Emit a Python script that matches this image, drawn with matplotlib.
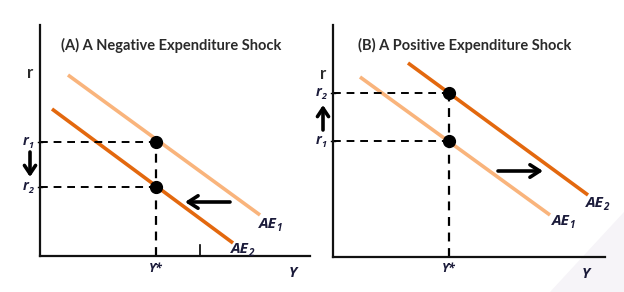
import matplotlib
matplotlib.use("Agg")
import matplotlib.pyplot as plt
from matplotlib.patches import Polygon

plt.rcParams['font.family'] = ['Lato', 'DejaVu Sans']

W, H = 624, 292
LIGHT = '#F9B47C'
DARK = '#E3680E'
NAVY = '#1B1B3A'
LABEL_FONT = ['Open Sans', 'DejaVu Sans']

# Panel A data (schematic units)
a_title = "(A) A Negative Expenditure Shock"
a_ae1_x = [28, 220]; a_ae1_y = [181, 41]
a_ae2_x = [12, 193]; a_ae2_y = [147, 13]
a_ystar = 116
a_r1 = 114; a_r2 = 69
a_tick = 160
a_shift_arrow = [190, 145, 54]   # from x, to x, at y

# Panel B data
b_title = "(B) A Positive Expenditure Shock"
b_ae1_x = [27, 217]; b_ae1_y = [180, 42]
b_ae2_x = [75, 255]; b_ae2_y = [194, 62]
b_ystar = 116
b_r1 = 116; b_r2 = 164
b_shift_arrow = [165, 210, 86]

fig = plt.figure(figsize=(W / 100, H / 100), dpi=100)
fig.patch.set_facecolor('white')

# faint slide-background shading in the lower right corner
fig.patches.append(Polygon([(550 / W, 0), (1, 0), (1, 80 / H)], closed=True,
                           transform=fig.transFigure, facecolor='#F6F4F8',
                           edgecolor='none', zorder=-5))


def make_ax(left, right, bottom, top):
    ax = fig.add_axes([left / W, (H - bottom) / H, (right - left) / W, (bottom - top) / H])
    ax.set_xlim(0, right - left)
    ax.set_ylim(0, bottom - top)
    for s in ['top', 'right']:
        ax.spines[s].set_visible(False)
    for s in ['left', 'bottom']:
        ax.spines[s].set_linewidth(1.6)
        ax.spines[s].set_color('#111111')
    ax.set_xticks([]); ax.set_yticks([])
    ax.patch.set_alpha(0)
    return ax


def sublabel(ax, x, y, main, sub=None, size=11, ha='center'):
    """Bold italic label with optional subscript; (x, y) is the centre of the main text."""
    t = ax.text(x, y, main, fontsize=size, color=NAVY, fontweight='bold', style='italic',
                family=LABEL_FONT, ha=ha, va='center', clip_on=False)
    if sub is not None:
        fig.canvas.draw()
        bb = t.get_window_extent()
        inv = ax.transData.inverted()
        x1, _ = inv.transform((bb.x1, bb.y0))
        ax.annotate(sub, xy=(x1, y), xytext=(-0.8, -3.5), textcoords='offset points',
                    fontsize=size * 0.65, color=NAVY, fontweight='bold', style='italic',
                    family=LABEL_FONT, ha='left', va='center', annotation_clip=False)


def draw(ax, title, ae1x, ae1y, ae2x, ae2y, ystar, rlow, rhigh, arrow, vert_dir, rnames):
    ax.plot(ae1x, ae1y, color=LIGHT, lw=2.6, solid_capstyle='butt')
    ax.plot(ae2x, ae2y, color=DARK, lw=2.6, solid_capstyle='butt')
    for r in (rlow, rhigh):
        ax.plot([0, ystar], [r, r], color='black', lw=1.4, ls=(0, (4, 3)))
        ax.plot([-2, 2], [r, r], color='black', lw=1.0, clip_on=False)
    ax.plot([ystar, ystar], [0, max(rlow, rhigh)], color='black', lw=1.6, ls=(0, (4, 3)))
    ax.plot([ystar, ystar], [rlow, rhigh], 'o', color='black', ms=8.5)
    ax.annotate('', xy=(arrow[1], arrow[2]), xytext=(arrow[0], arrow[2]),
                arrowprops=dict(arrowstyle='->,head_length=0.7,head_width=0.45',
                                lw=2.6, color='black', shrinkA=0, shrinkB=0))
    ax.text(0.5 * (ax.get_xlim()[1]) - 4, ax.get_ylim()[1] - 20, title, fontsize=10.5,
            fontweight='bold', color='#2a2a2a', ha='center', va='center')
    ax.text(-10, 183, 'r', fontsize=12, fontweight='bold', color='#2a2a2a', ha='center',
            va='center', clip_on=False)
    sublabel(ax, ystar, -12, 'Y*', size=9)
    sublabel(ax, 253, -17, 'Y', size=10.5)
    for name, r in rnames:
        sublabel(ax, -14, r + 1, 'r', name, size=10)
    lo, hi = vert_dir
    ax.annotate('', xy=(-10, hi), xytext=(-10, lo), annotation_clip=False,
                arrowprops=dict(arrowstyle='->,head_length=0.6,head_width=0.4',
                                lw=2.6, color='black', shrinkA=0, shrinkB=0))


axA = make_ax(40, 310, 256, 25)
draw(axA, a_title, a_ae1_x, a_ae1_y, a_ae2_x, a_ae2_y, a_ystar, a_r2, a_r1,
     a_shift_arrow, (104, 79), [('1', a_r1), ('2', a_r2)])
axA.plot([a_tick, a_tick], [0, 11], color='black', lw=1.2)
sublabel(axA, 228, 32, 'AE', '1', size=11)
sublabel(axA, 200, 7, 'AE', '2', size=11)

axB = make_ax(333, 605, 257, 25)
draw(axB, b_title, b_ae1_x, b_ae1_y, b_ae2_x, b_ae2_y, b_ystar, b_r1, b_r2,
     b_shift_arrow, (127, 152), [('2', b_r2), ('1', b_r1)])
sublabel(axB, 262, 54, 'AE', '2', size=11)
sublabel(axB, 228, 36, 'AE', '1', size=11)

fig.savefig('out.png', dpi=100)
